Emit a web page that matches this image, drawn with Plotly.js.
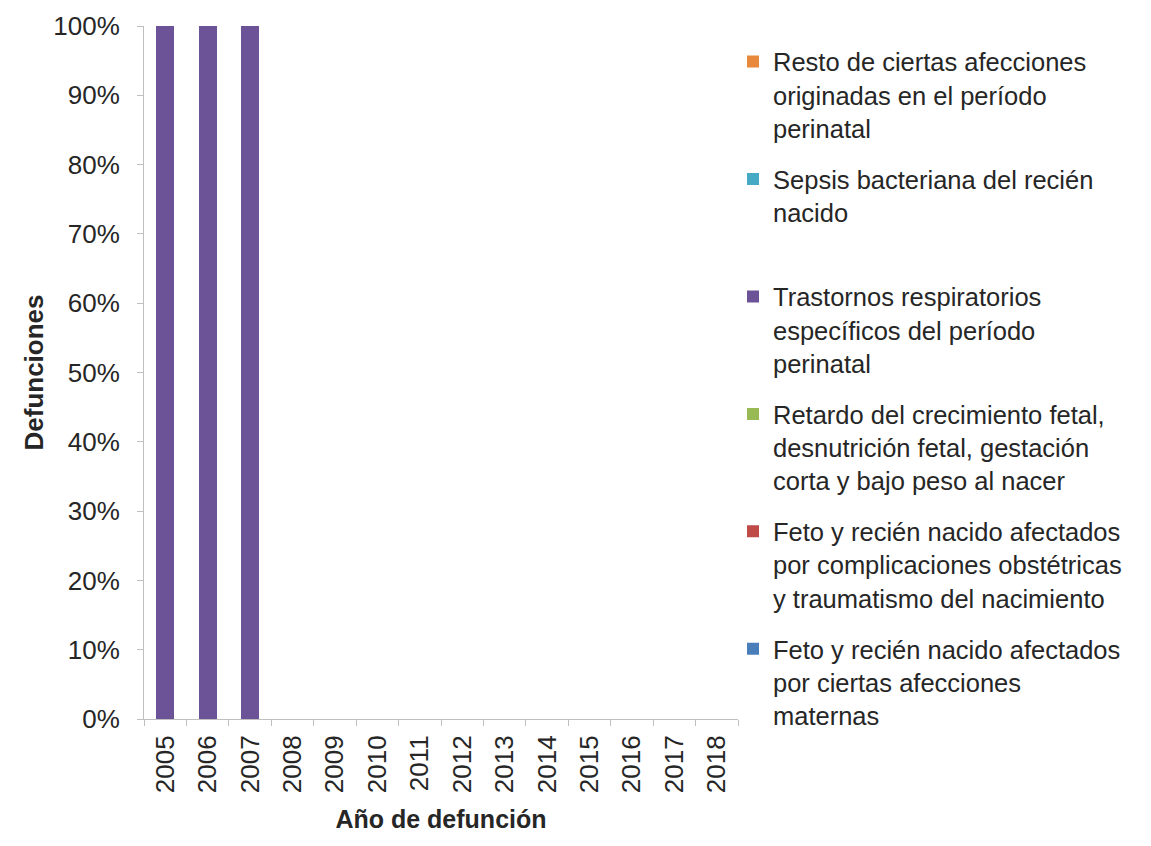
<!DOCTYPE html>
<html>
<head>
<meta charset="utf-8">
<script src="https://cdn.plot.ly/plotly-3.0.1.min.js"></script>
<style>html,body{margin:0;padding:0;background:#fff;}#chart{width:1151px;height:846px;}</style>
</head>
<body>
<div id="chart"></div>
<script>
const years = ['2005','2006','2007','2008','2009','2010','2011','2012','2013','2014','2015','2016','2017','2018'];
const fetoMaternas = [0,0,0,null,null,null,null,null,null,null,null,null,null,null];
const fetoComplicaciones = [0,0,0,null,null,null,null,null,null,null,null,null,null,null];
const retardo = [0,0,0,null,null,null,null,null,null,null,null,null,null,null];
const trastornos = [100,100,100,null,null,null,null,null,null,null,null,null,null,null];
const sepsis = [0,0,0,null,null,null,null,null,null,null,null,null,null,null];
const resto = [0,0,0,null,null,null,null,null,null,null,null,null,null,null];

const seriesNames = [
  'Feto y recién nacido afectados<br>por ciertas afecciones<br>maternas',
  'Feto y recién nacido afectados<br>por complicaciones obstétricas<br>y traumatismo del nacimiento',
  'Retardo del crecimiento fetal,<br>desnutrición fetal, gestación<br>corta y bajo peso al nacer',
  'Trastornos respiratorios<br>específicos del período<br>perinatal',
  'Sepsis bacteriana del recién<br>nacido<br> ',
  'Resto de ciertas afecciones<br>originadas en el período<br>perinatal'
];
const seriesValues = [fetoMaternas, fetoComplicaciones, retardo, trastornos, sepsis, resto];
const seriesColors = ['#4a7ebb', '#be4b48', '#98b954', '#6c5296', '#46aac5', '#e8883a'];

const traces = seriesValues.map((v, i) => ({
  type: 'bar',
  x: years,
  y: v,
  name: seriesNames[i],
  legendgroup: 'g' + i,
  legendrank: 1000 - i,
  marker: {color: seriesColors[i]},
  hoverinfo: 'x+y'
}));

const layout = {
  width: 1151,
  height: 846,
  paper_bgcolor: '#ffffff',
  plot_bgcolor: '#ffffff',
  barmode: 'stack',
  bargap: 0.58,
  margin: {l: 144, r: 413, t: 26, b: 127},
  font: {family: 'Liberation Sans, Arial, sans-serif', color: '#262626', size: 26},
  xaxis: {
    type: 'category',
    showline: true,
    linecolor: '#bfbfbf',
    linewidth: 1,
    ticks: 'outside',
    tickson: 'boundaries',
    ticklen: 6,
    tickcolor: '#bfbfbf',
    tickangle: -90,
    tickfont: {size: 26},
    ticklabelstandoff: 5,
    showgrid: false,
    zeroline: false,
    title: {text: '<b>Año de defunción</b>', font: {size: 25}, standoff: 18}
  },
  yaxis: {
    range: [0, 100],
    dtick: 10,
    ticksuffix: '%',
    showline: true,
    linecolor: '#bfbfbf',
    linewidth: 1,
    ticks: 'outside',
    ticklen: 6,
    tickcolor: '#bfbfbf',
    tickfont: {size: 26},
    ticklabelstandoff: 12,
    showgrid: false,
    zeroline: false,
    title: {text: '<b>Defunciones</b>', font: {size: 26}, standoff: 2}
  },
  showlegend: true,
  legend: {
    x: 0.9916,
    xanchor: 'left',
    y: 0.982,
    yanchor: 'top',
    traceorder: 'grouped',
    tracegroupgap: 15,
    valign: 'top',
    font: {size: 25.5, color: '#262626'},
    bgcolor: 'rgba(0,0,0,0)'
  }
};

Plotly.newPlot('chart', traces, layout, {displayModeBar: false, staticPlot: true});
</script>
</body>
</html>
